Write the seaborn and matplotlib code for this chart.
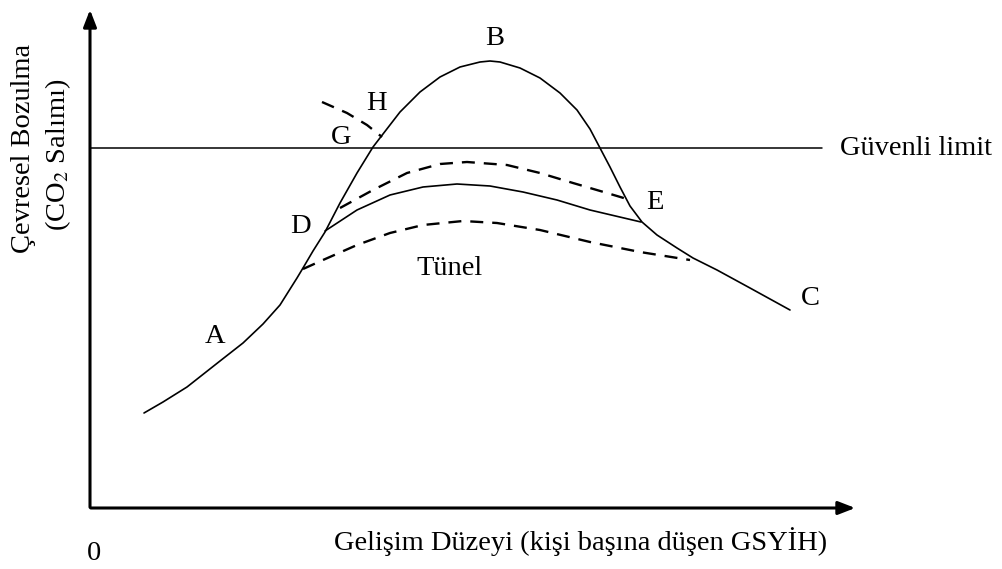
import matplotlib
matplotlib.use("Agg")
import matplotlib.pyplot as plt
import pandas as pd
import seaborn as sns

# main EKC curve (A -> B -> C), pixel-like units, y grows downward
main_x = [144, 163, 187, 220, 243, 263, 280, 297, 303, 313, 325, 340, 357, 373,
          383, 400, 420, 440, 460, 480, 490, 500, 520, 540, 560, 577, 590, 600,
          610, 620, 630, 642, 657, 677, 693, 717, 750, 790]
main_y = [413, 402, 387, 361, 343, 324, 305, 278, 268, 251, 232, 203, 173, 147,
          134, 112, 92, 77, 67, 62, 61, 62, 68, 78, 93, 110, 129, 148,
          167, 187, 206, 222, 235, 248, 258, 270, 288, 310]

# tunnel: upper dashed, inner solid (D -> E), lower dashed
upper_x = [340, 373, 407, 440, 467, 507, 540, 573, 607, 627]
upper_y = [208, 190, 173, 164, 162, 165, 173, 183, 193, 199]
inner_x = [325, 357, 390, 423, 457, 490, 523, 557, 590, 641]
inner_y = [231, 210, 195, 187, 184, 186, 192, 200, 210, 222]
lower_x = [303, 323, 357, 390, 423, 463, 497, 540, 590, 640, 690]
lower_y = [269, 260, 245, 233, 225, 221, 223, 230, 242, 252, 260]

# G -> H branch above safe limit
h_x = [322, 347, 367, 382]
h_y = [102, 113, 125, 137]

safe_limit = 148

point_labels = ["A", "B", "C", "D", "E", "G", "H", "Tünel"]
label_x = [215, 495, 810, 300, 655, 341, 376, 450]
label_y = [336, 38, 298, 226, 202, 137, 103, 268]

sns.set_theme(style="white")
plt.rcParams["font.family"] = ["Liberation Serif", "DejaVu Serif"]
plt.rcParams["mathtext.fontset"] = "stix"
plt.rcParams["text.color"] = "black"

fig = plt.figure(figsize=(10.02, 5.69), dpi=100)
ax = fig.add_axes([0, 0, 1, 1])
ax.set_xlim(0, 1002)
ax.set_ylim(569, 0)
ax.axis("off")


def draw(xs, ys, dashed=False):
    df = pd.DataFrame({"x": xs, "y": ys})
    sns.lineplot(data=df, x="x", y="y", ax=ax, color="black",
                 lw=1.7 if dashed else 1.2,
                 linestyle=(0, (5.5, 3.8)) if dashed else "-",
                 sort=False, estimator=None)


draw(main_x, main_y)
draw(inner_x, inner_y)
draw(upper_x, upper_y, dashed=True)
draw(lower_x, lower_y, dashed=True)
draw(h_x, h_y, dashed=True)

ax.plot([90, 822], [safe_limit, safe_limit], color="black", lw=1.1)
ax.text(840, safe_limit, "Güvenli limit", fontsize=20.5, va="center", ha="left")

# axes with arrows
arrow = dict(arrowstyle="-|>,head_length=0.85,head_width=0.33", color="black", lw=2.2)
ax.annotate("", xy=(90, 7), xytext=(90, 510), arrowprops=arrow)
ax.annotate("", xy=(858, 508), xytext=(88, 508), arrowprops=arrow)

for lab, x, y in zip(point_labels, label_x, label_y):
    ax.text(x, y, lab, fontsize=20.5, ha="center", va="center")

ax.text(94, 553, "0", fontsize=20.5, ha="center", va="center")
ax.text(581, 542, "Gelişim Düzeyi (kişi başına düşen GSYİH)", fontsize=20.5,
        ha="center", va="center")
ax.text(24, 148, "Çevresel Bozulma", fontsize=20.5, rotation=90, ha="center", va="center")
ax.text(58, 155, "(CO$_2$ Salımı)", fontsize=20.5, rotation=90, ha="center", va="center")

fig.savefig("out.png", dpi=100)
